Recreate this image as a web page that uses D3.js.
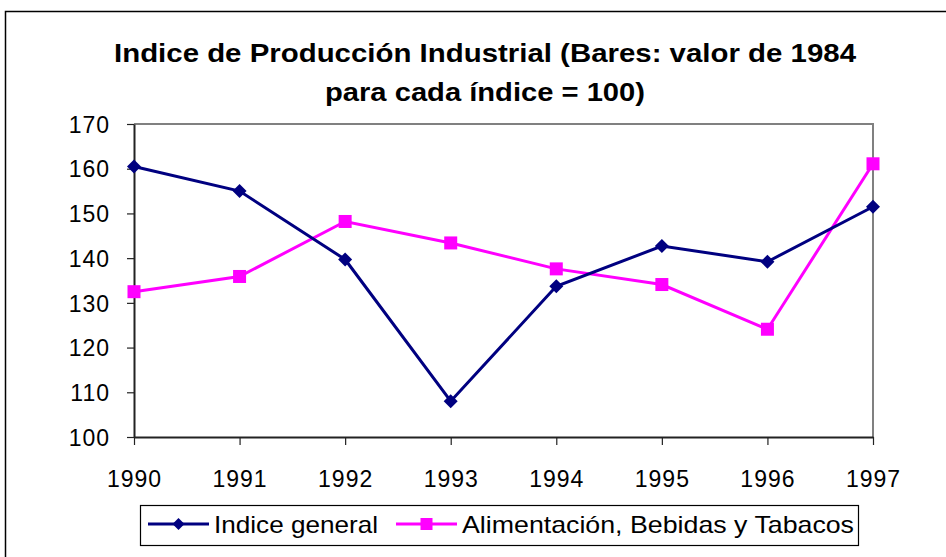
<!DOCTYPE html>
<html>
<head>
<meta charset="utf-8">
<script src="https://cdn.jsdelivr.net/npm/d3@7"></script>
<style>
  html, body { margin: 0; padding: 0; background: #fff; }
  svg { display: block; font-family: "Liberation Sans", Arial, sans-serif; }
</style>
</head>
<body>
<svg id="chart" width="946" height="557"></svg>
<script>
// Years on the category axis
const years = ["1990", "1991", "1992", "1993", "1994", "1995", "1996", "1997"];
// Index values (base 1984 = 100)
const indiceGeneral = [160.5, 155.0, 139.7, 108.0, 133.7, 142.7, 139.2, 151.5];
const alimentacion = [132.5, 135.9, 148.2, 143.4, 137.6, 134.1, 124.1, 161.1];
const yTicks = [100, 110, 120, 130, 140, 150, 160, 170];
const seriesNames = ["Indice general", "Alimentación, Bebidas y Tabacos"];
const titleLines = ["Indice de Producción Industrial (Bares: valor de 1984", "para cada índice = 100)"];

const svg = d3.select("#chart");
const plot = { left: 134, right: 873, top: 124, bottom: 437 };

// Outer chart frame
svg.append("rect")
  .attr("x", 5.5).attr("y", 11.5)
  .attr("width", 1000).attr("height", 700)
  .attr("fill", "#fff").attr("stroke", "#000").attr("stroke-width", 1.5);

// Title (two centred lines in wide bold lettering)
const titleWidths = [742, 320];
svg.append("g").selectAll("text")
  .data(titleLines)
  .join("text")
  .attr("x", 485)
  .attr("y", (d, i) => 62 + i * 38.5)
  .attr("text-anchor", "middle")
  .attr("font-weight", "bold")
  .attr("font-size", 26)
  .attr("fill", "#000")
  .attr("textLength", (d, i) => titleWidths[i])
  .attr("lengthAdjust", "spacingAndGlyphs")
  .text(d => d);

const x = d3.scalePoint().domain(years).range([plot.left, plot.right]);
const y = d3.scaleLinear().domain([100, 170]).range([plot.bottom, plot.top]);

// Plot frame: grey top and right edges
svg.append("path")
  .attr("d", `M${plot.left},${plot.top}H${plot.right}V${plot.bottom}`)
  .attr("fill", "none").attr("stroke", "#808080").attr("stroke-width", 2);

// Y axis
const yAxis = svg.append("g")
  .attr("transform", `translate(${plot.left},0)`)
  .call(d3.axisLeft(y).tickValues(yTicks).tickSize(7).tickPadding(17).tickSizeOuter(0));
yAxis.select(".domain").attr("stroke", "#222").attr("stroke-width", 2);
yAxis.selectAll(".tick line").attr("stroke", "#222").attr("stroke-width", 1.2);
yAxis.selectAll(".tick text")
  .attr("font-size", 23).attr("fill", "#000")
  .attr("font-family", "Liberation Sans, Arial, sans-serif")
  .attr("letter-spacing", 1)
  .attr("dy", "0.36em");

// X axis
const xAxis = svg.append("g")
  .attr("transform", `translate(0,${plot.bottom})`)
  .call(d3.axisBottom(x).tickSize(8).tickPadding(26).tickSizeOuter(0));
xAxis.select(".domain").attr("stroke", "#222").attr("stroke-width", 2);
xAxis.selectAll(".tick line").attr("stroke", "#222").attr("stroke-width", 1.2);
xAxis.selectAll(".tick text")
  .attr("font-size", 23).attr("fill", "#000")
  .attr("font-family", "Liberation Sans, Arial, sans-serif")
  .attr("letter-spacing", 1)
  .attr("dy", "0.71em");

const line = d3.line().x((d, i) => x(years[i])).y(d => y(d));
const navy = "#000080", magenta = "#FF00FF";

// Alimentación series (drawn first, Indice general on top near crossings)
svg.append("path").datum(alimentacion)
  .attr("d", line).attr("fill", "none")
  .attr("stroke", magenta).attr("stroke-width", 3);
svg.append("g").selectAll("rect")
  .data(alimentacion)
  .join("rect")
  .attr("x", (d, i) => x(years[i]) - 6.5)
  .attr("y", d => y(d) - 6.5)
  .attr("width", 13).attr("height", 13)
  .attr("fill", magenta);

// Indice general series
svg.append("path").datum(indiceGeneral)
  .attr("d", line).attr("fill", "none")
  .attr("stroke", navy).attr("stroke-width", 3);
svg.append("g").selectAll("path")
  .data(indiceGeneral)
  .join("path")
  .attr("transform", (d, i) => `translate(${x(years[i])},${y(d)})`)
  .attr("d", "M0,-7L7,0L0,7L-7,0Z")
  .attr("fill", navy);

// Legend
const legend = svg.append("g");
legend.append("rect")
  .attr("x", 140.5).attr("y", 505.5)
  .attr("width", 718).attr("height", 40)
  .attr("fill", "#fff").attr("stroke", "#000").attr("stroke-width", 1.2);

const legendItems = [
  { name: seriesNames[0], color: navy, shape: "diamond", x0: 148, w: 164 },
  { name: seriesNames[1], color: magenta, shape: "square", x0: 396, w: 392 }
];
const ly = 524;
legendItems.forEach(it => {
  legend.append("line")
    .attr("x1", it.x0).attr("x2", it.x0 + 61)
    .attr("y1", ly).attr("y2", ly)
    .attr("stroke", it.color).attr("stroke-width", 3);
  const cx = it.x0 + 30.5;
  if (it.shape === "diamond") {
    legend.append("path")
      .attr("d", `M${cx},${ly - 6}L${cx + 6},${ly}L${cx},${ly + 6}L${cx - 6},${ly}Z`)
      .attr("fill", it.color);
  } else {
    legend.append("rect")
      .attr("x", cx - 6).attr("y", ly - 6)
      .attr("width", 12).attr("height", 12)
      .attr("fill", it.color);
  }
  legend.append("text")
    .attr("x", it.x0 + 66).attr("y", ly + 8.5)
    .attr("font-size", 24).attr("fill", "#000")
    .attr("textLength", it.w)
    .attr("lengthAdjust", "spacingAndGlyphs")
    .text(it.name);
});
</script>
</body>
</html>
